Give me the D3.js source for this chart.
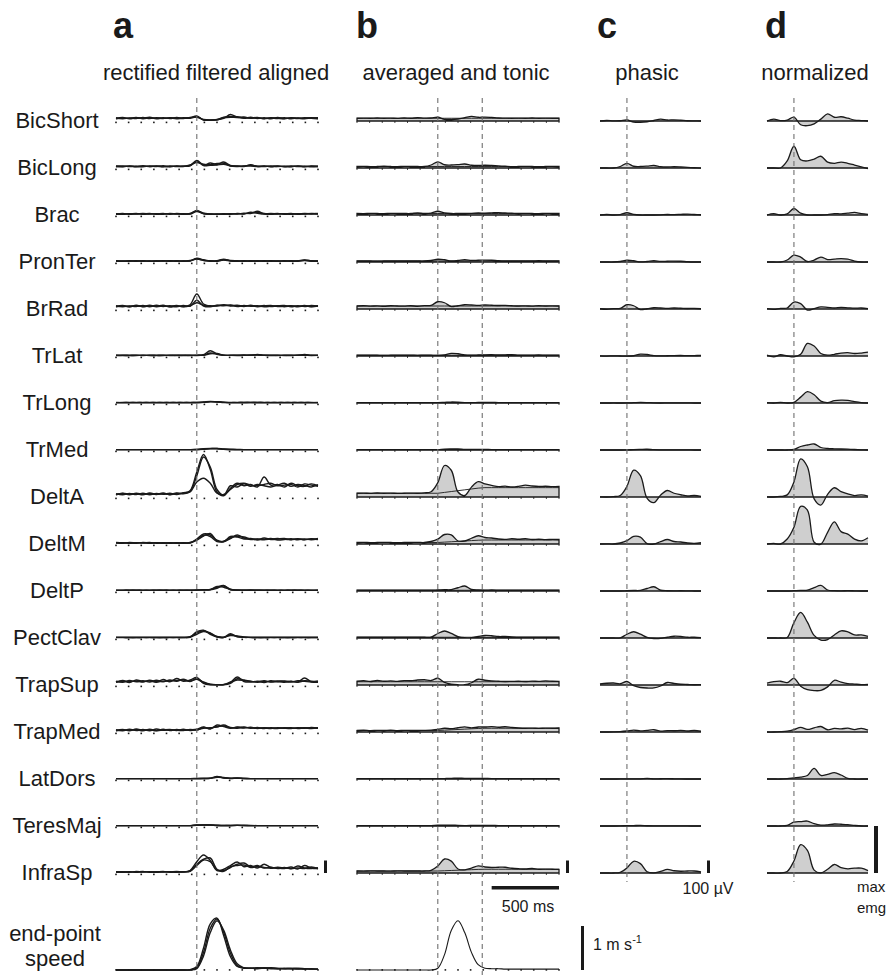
<!DOCTYPE html>
<html>
<head>
<meta charset="utf-8">
<script src="https://cdn.jsdelivr.net/npm/d3@7"></script>
<style>
  body { margin: 0; background: #fff; }
  text { font-family: "Liberation Sans", Arial, Helvetica, sans-serif; fill: #1a1a1a; }
</style>
</head>
<body>
<svg id="chart" width="890" height="975"></svg>
<script>
// ---- data (EMG in microvolts, speed in m/s), sampled every 50 ms around movement onset ----
const muscles = ['BicShort', 'BicLong', 'Brac', 'PronTer', 'BrRad', 'TrLat', 'TrLong', 'TrMed',
  'DeltA', 'DeltM', 'DeltP', 'PectClav', 'TrapSup', 'TrapMed', 'LatDors', 'TeresMaj', 'InfraSp'];

const timeMs = [-600, -550, -500, -450, -400, -350, -300, -250, -200, -150, -100, -50,
  0, 50, 100, 150, 200, 250, 300, 350, 400, 450, 500, 550, 600, 650, 700, 750, 800, 850, 900];

const moveOnset = 0;
const moveEnd = 330;

const tonicPre  = [22, 12, 12, 8, 24, 6, 3, 3, 30, 12, 6, 6, 26, 12, 3, 3, 16];
const tonicPost = [22, 12, 12, 8, 24, 6, 3, 3, 75, 32, 6, 6, 26, 30, 3, 3, 30];
const maxEmg    = [100, 80, 130, 95, 230, 56, 20, 47, 265, 76, 285, 92, 200, 155, 20, 40, 156];

// averaged EMG per muscle (panel b)
const averaged = [
  [22,23,22,24,22,23,21,24, 22,26,23,24, 30,14,12,16,26,37,30,31,28,24,23,22, 23,22,24,22,23,22,23],
  [12,13,11,12,14,12,11,13, 12,12,12,24, 49,26,24,27,32,22,20,22,20,17,14,11, 12,13,12,11,12,13,12],
  [12,11,13,12,11,13,12,12, 12,16,12,15, 30,17,12,12,12,13,16,15,17,19,16,14, 12,13,12,11,13,12,12],
  [8,9,8,7,8,9,8,8, 8,8,8,12, 22,18,9,12,18,13,14,15,14,10,8,8, 9,8,8,10,8,8,8],
  [24,26,23,25,22,26,24,23, 26,22,27,29, 58,50,19,26,34,32,29,32,30,28,29,26, 24,25,23,26,24,25,24],
  [6,6,7,6,5,6,7,6, 7,5,7.5,6, 5,8,21,18,9,7,8,9.5,10,9,9.5,10.5, 7,6,7,8,6,6,6],
  [3,3,3.2,3,2.8,3,3.1,3, 3.2,3,3.3,3, 3.3,5.5,7.8,6.5,3.8,3.2,4,4.2,4.1,3.6,3.2,3, 3,3.1,3,2.9,3,3.1,3],
  [3,3,3,3,3,3,3,3, 3,3,3,3, 3.5,6.5,8,9,5.5,4.5,4.2,4,3.8,3.5,3.2,3, 3,3,3,3,3,3,3],
  [30,31,29,32,30,31,29,30, 31,30,33,42, 115,252,214,40,12,79,123,105,93,83,87,80, 85,95,88,84,86,83,85],
  [12,13,11,12,13,12,11,12, 12,13,12,20, 39,76,73,24,24,46,66,52,48,40,37,42, 38,42,36,38,35,37,36],
  [6,6,7,6,6,6,7,6, 6,6,6,6, 8,10,11,26,40,12,8,7,8,7,6,6, 6,6,7,6,6,6,6],
  [6,6,6,6,7,6,6,6, 6,6,6,7, 36,56,37,11,2,3,12,20,18,12,12,9, 7,6,6,6,6,6,6],
  [30,34,28,36,30,33,29,35, 34,40,42,36, 54,21,6,2,3,18,46,38,32,30,28,29, 30,28,31,29,33,30,29],
  [12,14,11,13,12,14,11,13, 12,12,13,15, 20,30,26,34,41,33,40,40,43,38,42,36, 32,30,31,29,31,30,32],
  [3,3,3,3,3,3,3,3, 3,3,3,3.2, 3.5,3.8,4.5,7.5,4.5,5,5.7,4.7,3.3,3,3,3, 3,3,3,3,3,3,3],
  [3,3,3,3,3,3,3,3, 3,3,3,3.5, 6.4,6.8,7.2,5,3.8,4,4.7,4.5,4.2,3.5,3,3, 3,3,3,3,3,3,3],
  [16,15,17,16,16,15,17,16, 16,16,16,21, 56,112,95,32,25,39,57,48,44,46,46,38, 34,32,36,30,31,30,29]
];

// single trials, rectified + filtered (panel a)
const trial1 = [
  [20,28,18,26,22,30,18,26, 20,28,22,26, 40,8,6,10,22,52,30,26,24,28,18,24, 20,26,18,24,22,26,20],
  [14,10,16,12,18,12,14,10, 16,12,14,20, 60,24,40,28,48,20,14,16,22,14,12,16, 12,14,10,16,12,14,12],
  [8,12,6,10,8,12,6,10, 8,10,6,12, 36,14,8,6,8,10,8,14,12,30,10,8, 12,6,10,8,12,10,8],
  [8,6,8,10,6,8,6,8, 10,6,8,10, 30,18,8,10,22,10,8,6,8,10,6,8, 8,10,6,8,16,8,6],
  [20,28,16,30,18,26,22,30, 16,24,20,34, 120,40,22,28,30,24,26,20,30,18,24,28, 20,22,26,18,24,20,26],
  [4,6,5,4,6,4,5,6, 4,5,6,4, 5,10,42,16,6,5,6,8,6,12,6,5, 6,4,6,5,12,6,5],
  [3,4,3,3,4,3,3,4, 3,3,4,3, 4,8,13,9,5,4,3,4,5,4,3,3, 4,3,3,4,3,3,4],
  [3,3,3,3,3,3,3,3, 3,3,3,3, 4,10,13,12,6,4,3,3,3,3,3,3, 3,3,3,3,3,3,3],
  [20,28,18,30,22,26,20,32, 18,28,30,50, 200,340,220,40,10,70,110,90,100,80,160,95, 100,80,110,90,85,105,90],
  [10,6,12,8,10,6,10,8, 6,10,8,10, 40,80,72,30,20,60,56,40,44,32,48,36, 40,44,34,40,36,42,38],
  [5,6,5,6,5,6,5,6, 5,6,5,6, 8,10,12,30,44,10,7,6,7,6,5,6, 5,6,5,6,5,6,5],
  [5,4,5,4,5,4,5,4, 5,4,5,8, 50,62,30,8,4,34,10,6,5,4,5,4, 5,4,5,4,5,4,5],
  [24,36,20,40,28,34,22,44, 26,52,30,40, 60,14,2,2,3,20,64,28,24,30,20,34, 26,22,30,24,56,26,22],
  [12,20,10,24,14,18,10,22, 12,20,14,18, 22,40,24,56,44,30,40,36,34,30,32,28, 34,30,28,34,30,36,32],
  [3,3,3,3,3,3,3,3, 3,3,3,3, 3,4,6,20,8,5,8,4,3,3,3,3, 3,3,3,3,3,3,3],
  [3,3,3,3,3,3,3,3, 3,3,3,3, 8,9,8,5,3,4,6,4,3,3,3,3, 3,3,3,3,3,3,3],
  [8,10,6,12,8,10,6,10, 8,12,8,20, 90,144,100,20,30,60,88,50,60,40,70,44, 40,36,48,32,60,40,36]
];
const trial2 = [
  [26,18,24,20,28,20,26,22, 24,18,26,22, 34,10,6,12,30,36,34,22,30,20,26,18, 28,20,26,22,18,24,26],
  [10,16,12,14,10,16,12,18, 12,14,12,24, 44,30,26,36,38,16,12,14,16,12,16,10, 14,12,16,12,14,10,14],
  [10,6,10,8,12,8,10,6, 12,8,10,8, 28,10,6,8,6,8,10,8,22,14,8,12, 8,10,6,10,8,12,10],
  [6,8,10,6,8,6,10,8, 6,8,6,12, 24,14,6,8,16,8,6,10,6,8,10,6, 8,6,8,10,12,6,8],
  [26,18,24,20,28,18,30,20, 26,18,28,22, 70,24,18,30,26,32,20,28,22,26,18,22, 26,28,18,26,20,28,22],
  [6,4,5,6,4,6,5,4, 6,4,5,6, 4,8,24,14,5,6,5,6,8,8,5,6, 4,6,5,6,8,5,6],
  [4,3,3,4,3,3,4,3, 4,3,3,4, 3,6,11,10,6,3,4,3,4,3,4,3, 3,4,3,3,4,3,3],
  [3,3,3,3,3,3,3,3, 3,3,3,3, 3,8,11,13,8,5,4,3,3,3,3,3, 3,3,3,3,3,3,3],
  [26,18,28,20,30,18,28,22, 30,20,34,45, 170,320,240,60,15,90,80,105,85,100,90,80, 95,110,85,100,92,80,100],
  [8,10,6,10,8,12,6,10, 8,6,10,8, 30,64,84,24,18,44,72,48,36,40,38,44, 32,36,42,34,40,34,44],
  [6,5,6,5,6,5,6,5, 6,5,6,5, 6,8,10,22,40,14,8,7,6,7,6,5, 6,5,6,5,6,5,6],
  [4,5,4,5,4,5,4,5, 4,5,4,10, 40,58,40,12,6,20,16,8,4,5,4,5, 4,5,4,5,4,5,4],
  [30,22,36,26,34,24,38,26, 40,30,46,28, 50,24,6,2,2,14,50,40,30,22,28,26, 32,28,24,34,30,24,32],
  [18,10,22,12,20,10,24,14, 18,12,22,12, 18,30,34,40,56,36,30,40,30,36,28,34, 30,32,34,28,32,28,34],
  [3,3,3,3,3,3,3,3, 3,3,3,3, 3,4,5,14,12,6,6,5,3,3,3,3, 3,3,3,3,3,3,3],
  [3,3,3,3,3,3,3,3, 3,3,3,3, 6,7,9,6,4,4,5,5,3,3,3,3, 3,3,3,3,3,3,3],
  [10,6,10,8,12,6,10,8, 10,6,10,16, 70,110,120,30,20,44,70,80,50,60,40,46, 36,44,34,56,40,36,42]
];
const trial3 = [
  [18,24,22,28,18,24,22,20, 26,22,20,28, 30,12,8,10,26,30,28,32,22,24,20,26, 22,18,24,20,26,22,18],
  [16,12,14,10,14,12,16,12, 10,16,14,18, 52,20,22,24,30,18,16,12,26,12,14,12, 16,10,12,14,10,16,12],
  [6,10,8,12,6,10,8,12, 6,12,8,10, 32,12,8,6,10,6,12,10,16,20,12,6, 10,8,12,6,10,8,12],
  [10,6,6,8,10,8,6,10, 8,10,8,8, 26,12,10,6,18,12,10,8,10,6,8,10, 6,8,10,6,14,10,8],
  [18,24,22,26,20,30,18,24, 22,28,18,26, 50,30,26,24,34,28,30,24,26,22,28,20, 24,18,24,22,28,18,24],
  [5,5,4,5,5,5,4,5, 5,6,4,5, 6,6,18,20,7,5,4,5,5,10,6,4, 5,5,4,6,6,4,5],
  [3,3,4,3,3,4,3,3, 3,4,3,3, 4,5,9,8,4,3,3,4,3,4,3,4, 3,3,4,3,3,4,3],
  [3,3,3,3,3,3,3,3, 3,3,3,3, 4,6,9,10,5,4,3,3,3,3,3,3, 3,3,3,3,3,3,3],
  [18,30,22,26,18,32,22,26, 20,32,26,40, 120,150,110,30,20,60,100,110,95,90,100,110, 90,95,100,80,105,95,85],
  [12,8,10,6,12,8,10,6, 10,8,6,12, 34,70,60,20,22,50,62,56,40,38,34,40, 44,38,36,42,34,40,36],
  [5,5,6,6,5,5,6,6, 5,5,6,6, 7,9,11,36,30,12,6,6,8,6,6,6, 5,5,6,6,5,5,6],
  [5,5,4,4,5,5,4,4, 5,5,4,6, 30,52,36,10,5,26,12,5,5,4,4,5, 5,4,4,5,5,4,4],
  [22,30,26,32,24,38,26,30, 32,36,40,32, 46,18,4,3,4,24,40,36,28,26,34,24, 28,32,28,22,34,30,26],
  [10,16,14,18,10,22,12,16, 20,14,12,20, 16,36,28,44,48,34,36,32,38,28,34,30, 28,34,30,32,34,32,30],
  [3,3,3,3,3,3,3,3, 3,3,3,3, 4,5,6,16,10,4,7,4,3,3,3,3, 3,3,3,3,3,3,3],
  [3,3,3,3,3,3,3,3, 3,3,3,3, 7,8,7,4,4,3,5,4,4,3,3,3, 3,3,3,3,3,3,3],
  [6,8,8,6,10,8,8,12, 6,8,10,14, 60,104,90,24,14,50,60,64,44,52,44,38, 46,40,36,40,36,48,34]
];

const speedAvg = [0,0,0,0,0,0,0,0, 0,0,0,0, 0.04,0.35,0.9,1.12,0.85,0.4,0.12,0.04,0.03,0.03,0.02,0.02, 0.02,0.02,0.02,0.02,0.02,0.02,0.02];
const speedTrial1 = [0,0,0,0,0,0,0,0, 0,0,0,0, 0.05,0.4,0.95,1.16,0.85,0.38,0.1,0.04,0.04,0.05,0.04,0.03, 0.03,0.04,0.03,0.02,0.03,0.02,0.02];
const speedTrial2 = [0,0,0,0,0,0,0,0, 0,0,0,0.01, 0.08,0.5,1.05,1.18,0.78,0.3,0.08,0.05,0.04,0.04,0.05,0.04, 0.03,0.03,0.04,0.03,0.02,0.03,0.02];
const speedTrial3 = [0,0,0,0,0,0,0,0, 0,0,0,0, 0.03,0.32,0.85,1.12,0.9,0.45,0.14,0.05,0.04,0.03,0.04,0.05, 0.04,0.03,0.03,0.04,0.03,0.02,0.02];

const panelLetters = ['a', 'b', 'c', 'd'];
const panelTitles = ['rectified filtered aligned', 'averaged and tonic', 'phasic', 'normalized'];

// ---- layout ----
const svg = d3.select('#chart');
const gray = '#cfcfcf';
const ink = '#1a1a1a';

const rowY = d3.scaleLinear().domain([0, muscles.length - 1]).range([121, 873]);
const amp = d3.scaleLinear().domain([0, 100]).range([0, 12.5]);      // 100 uV
const norm = d3.scaleLinear().domain([0, 1]).range([0, 47]);          // max emg
const speedAmp = d3.scaleLinear().domain([0, 1]).range([0, 44]);     // 1 m/s
const speedY0 = 970;

const xA = d3.scaleLinear().domain([-600, 900]).range([116, 318]);
const xB = d3.scaleLinear().domain([-600, 900]).range([357, 559]);
const xC = d3.scaleLinear().domain([-200, 550]).range([600, 701]);
const xD = d3.scaleLinear().domain([-200, 550]).range([767, 868]);
const curve = d3.curveCatmullRom.alpha(0.5);

const dotTimes = d3.range(17).map(k => -600 + k * 1500 / 16);

const traces = svg.append('g');

function drawDots(x, y0) {
  traces.append('g').selectAll('rect')
    .data(dotTimes)
    .join('rect')
    .attr('x', t => x(t) - 0.8)
    .attr('y', y0 + 0.6)
    .attr('width', 1.6)
    .attr('height', 1.6)
    .attr('fill', ink);
}

muscles.forEach((name, i) => {
  const y0 = rowY(i);

  // label
  svg.append('text')
    .attr('x', 57)
    .attr('y', y0 + 7)
    .attr('text-anchor', 'middle')
    .attr('font-size', '22px')
    .text(name);

  // panel a: single trials
  drawDots(xA, y0);
  const lineA = d3.line()
    .x((v, k) => xA(timeMs[k]))
    .y(v => y0 - amp(v))
    .curve(curve);
  [trial1, trial2, trial3].forEach(tr => {
    traces.append('path')
      .attr('d', lineA(tr[i]))
      .attr('fill', 'none')
      .attr('stroke', ink)
      .attr('stroke-width', 1.4);
  });

  // panel b: average with tonic
  const tonic = d3.scaleLinear()
    .domain([moveOnset, moveEnd])
    .range([tonicPre[i], tonicPost[i]])
    .clamp(true);
  const areaB = d3.area()
    .x((v, k) => xB(timeMs[k]))
    .y0(y0)
    .y1(v => y0 - amp(v))
    .curve(curve);
  traces.append('path')
    .attr('d', areaB(averaged[i]))
    .attr('fill', gray)
    .attr('stroke', ink)
    .attr('stroke-width', 1.3);
  traces.append('path')
    .attr('d', d3.line().x(t => xB(t)).y(t => y0 - amp(tonic(t)))(timeMs))
    .attr('fill', 'none')
    .attr('stroke', ink)
    .attr('stroke-width', 0.9);
  traces.append('g').selectAll('line')
    .data(dotTimes)
    .join('line')
    .attr('x1', t => xB(t)).attr('x2', t => xB(t))
    .attr('y1', y0).attr('y2', y0 + 2)
    .attr('stroke', ink)
    .attr('stroke-width', 0.8);

  // panels c and d: phasic = average - tonic, and normalized phasic
  const phasic = timeMs
    .map((t, k) => ({ t, v: averaged[i][k] - tonic(t) }))
    .filter(d => d.t >= xC.domain()[0] && d.t <= xC.domain()[1]);

  [[xC, v => amp(v)], [xD, v => norm(v / maxEmg[i])]].forEach(([x, h]) => {
    traces.append('path')
      .attr('d', d3.area().x(d => x(d.t)).y0(y0).y1(d => y0 - h(d.v)).curve(curve)(phasic))
      .attr('fill', gray);
    traces.append('line')
      .attr('x1', x.range()[0]).attr('x2', x.range()[1])
      .attr('y1', y0).attr('y2', y0)
      .attr('stroke', ink)
      .attr('stroke-width', 1.4);
    traces.append('path')
      .attr('d', d3.line().x(d => x(d.t)).y(d => y0 - h(d.v)).curve(curve)(phasic))
      .attr('fill', 'none')
      .attr('stroke', ink)
      .attr('stroke-width', 1.3);
  });
});

// ---- end-point speed row ----
svg.append('text').attr('x', 55).attr('y', 941).attr('text-anchor', 'middle')
  .attr('font-size', '22px').text('end-point');
svg.append('text').attr('x', 55).attr('y', 966).attr('text-anchor', 'middle')
  .attr('font-size', '22px').text('speed');

drawDots(xA, speedY0 - 1.5);
[speedTrial1, speedTrial2, speedTrial3].forEach(tr => {
  traces.append('path')
    .attr('d', d3.line().x((v, k) => xA(timeMs[k])).y(v => speedY0 - speedAmp(v)).curve(curve)(tr))
    .attr('fill', 'none')
    .attr('stroke', ink)
    .attr('stroke-width', 1.4);
});
drawDots(xB, speedY0 - 1.5);
traces.append('path')
  .attr('d', d3.line().x((v, k) => xB(timeMs[k])).y(v => speedY0 - speedAmp(v)).curve(curve)(speedAvg))
  .attr('fill', 'none')
  .attr('stroke', ink)
  .attr('stroke-width', 1.1);

// ---- dashed event lines ----
const dashed = [
  { x: xA(moveOnset), y2: 975 },
  { x: xB(moveOnset), y2: 975 },
  { x: xB(moveEnd), y2: 975 },
  { x: xC(moveOnset), y2: 882 },
  { x: xD(moveOnset), y2: 882 }
];
svg.append('g').selectAll('line')
  .data(dashed)
  .join('line')
  .attr('x1', d => d.x).attr('x2', d => d.x)
  .attr('y1', 98).attr('y2', d => d.y2)
  .attr('stroke', '#707070')
  .attr('stroke-width', 1.1)
  .attr('stroke-dasharray', '5,4');

// ---- titles ----
const letterX = [113, 356, 597, 765];
const titleX = [216, 456, 647, 815];
panelLetters.forEach((l, j) => {
  svg.append('text').attr('x', letterX[j]).attr('y', 38)
    .attr('font-size', '36px').attr('font-weight', 'bold').text(l);
  svg.append('text').attr('x', titleX[j]).attr('y', 80)
    .attr('text-anchor', 'middle').attr('font-size', '22px').text(panelTitles[j]);
});

// ---- scale bars ----
const lastY = rowY(muscles.length - 1);
[324, 566, 707].forEach(x => {
  svg.append('rect').attr('x', x).attr('y', lastY - amp(100)).attr('width', 3)
    .attr('height', amp(100)).attr('fill', ink);
});
svg.append('rect').attr('x', 874).attr('y', lastY - norm(1)).attr('width', 4)
  .attr('height', norm(1)).attr('fill', ink);
svg.append('rect').attr('x', xB(400)).attr('y', 886).attr('width', xB(900) - xB(400))
  .attr('height', 3.5).attr('fill', ink);
svg.append('rect').attr('x', 581).attr('y', speedY0 - speedAmp(1)).attr('width', 3)
  .attr('height', speedAmp(1)).attr('fill', ink);

svg.append('text').attr('x', 708).attr('y', 894).attr('text-anchor', 'middle')
  .attr('font-size', '16px').text('100 \u00b5V');
svg.append('text').attr('x', 857).attr('y', 892).attr('font-size', '15px').text('max');
svg.append('text').attr('x', 857).attr('y', 913).attr('font-size', '15px').text('emg');
svg.append('text').attr('x', 528).attr('y', 912).attr('text-anchor', 'middle')
  .attr('font-size', '16px').text('500 ms');
const sp = svg.append('text').attr('x', 593).attr('y', 950).attr('font-size', '16px');
sp.append('tspan').text('1 m s');
sp.append('tspan').attr('dy', -7).attr('font-size', '11px').text('-1');
</script>
</body>
</html>
